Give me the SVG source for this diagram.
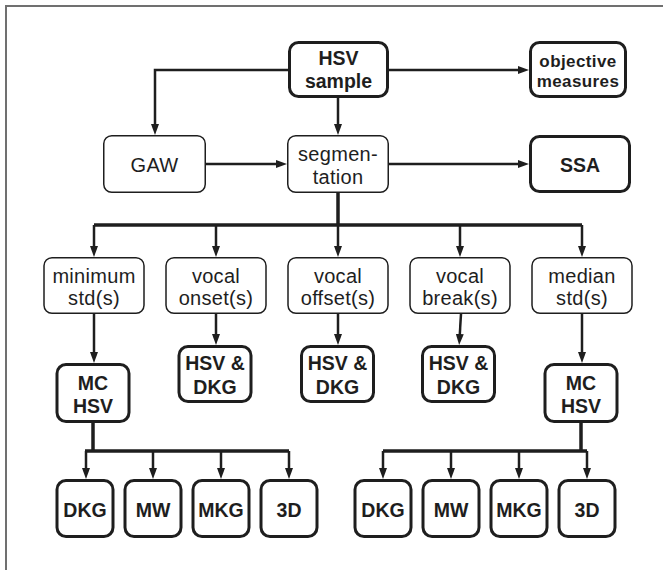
<svg xmlns="http://www.w3.org/2000/svg" width="664" height="570" viewBox="0 0 664 570">
<defs>
<marker id="ah" markerUnits="userSpaceOnUse" markerWidth="12" markerHeight="8" refX="5" refY="4" orient="auto">
<path d="M0,0 L11,4 L0,8 z" fill="#1e1e1e"/>
</marker>
<style>
.thin{fill:#fff;stroke:#1e1e1e;stroke-width:1.5}
.thick{fill:#fff;stroke:#1e1e1e;stroke-width:3}
.r{font-family:"Liberation Sans",Arial,sans-serif;font-size:20px;fill:#1e1e1e;text-anchor:middle;letter-spacing:0.3px}
.b{font-family:"Liberation Sans",Arial,sans-serif;font-size:19.5px;font-weight:bold;fill:#1e1e1e;text-anchor:middle}
.bs{font-family:"Liberation Sans",Arial,sans-serif;font-size:17px;font-weight:bold;fill:#1e1e1e;text-anchor:middle;letter-spacing:0.4px}
.ca{fill:none;stroke:#1e1e1e;stroke-width:2.5;marker-end:url(#ah)}
.bus{fill:none;stroke:#1e1e1e;stroke-width:3.5}
</style>
</defs>
<rect width="664" height="570" fill="#fff"/>
<path d="M6,570 V6 H663" fill="none" stroke="#707070" stroke-width="2"/>

<g id="connectors">
<path class="ca" d="M288,70 H155 V129"/>
<path class="ca" d="M389,70 H523"/>
<path class="ca" d="M338,98 V129"/>
<path class="ca" d="M206,164 H281"/>
<path class="ca" d="M389,164 H523"/>
<path class="bus" d="M338,193 V225"/>
<path class="bus" d="M94,225 H582"/>
<path class="ca" d="M94,225 V251"/>
<path class="ca" d="M216,225 V251"/>
<path class="ca" d="M338,225 V251"/>
<path class="ca" d="M460,225 V251"/>
<path class="ca" d="M582,225 V251"/>
<path class="ca" d="M94,314 V357"/>
<path class="ca" d="M216,314 V339"/>
<path class="ca" d="M338,314 V339"/>
<path class="ca" d="M461,314 L459.5,339"/>
<path class="ca" d="M582,314 V357"/>
<path class="bus" d="M93,423 V451"/>
<path class="bus" d="M85,451 H289"/>
<path class="ca" d="M86,451 V473"/>
<path class="ca" d="M153,451 V473"/>
<path class="ca" d="M221,451 V473"/>
<path class="ca" d="M289,451 V473"/>
<path class="bus" d="M581,423 V451"/>
<path class="bus" d="M383,451 H587"/>
<path class="ca" d="M383,451 V473"/>
<path class="ca" d="M451,451 V473"/>
<path class="ca" d="M519,451 V473"/>
<path class="ca" d="M587,451 V473"/>
</g>

<g id="hsv-sample"><rect class="thick" x="289.5" y="42.5" width="98" height="54" rx="9"/><text class="b" x="338.5" y="65">HSV</text><text class="b" x="338.5" y="88">sample</text></g>
<g id="objective-measures"><rect class="thick" x="530.5" y="42.5" width="95" height="54" rx="9"/><text class="bs" x="578" y="66.5">objective</text><text class="bs" x="578" y="86.5">measures</text></g>
<g id="gaw"><rect class="thin" x="103.75" y="135.75" width="101.5" height="56.5" rx="8"/><text class="r" x="154.5" y="172">GAW</text></g>
<g id="segmentation"><rect class="thin" x="287.75" y="135.75" width="100.5" height="56.5" rx="8"/><text class="r" x="338" y="161">segmen-</text><text class="r" x="338" y="183.5">tation</text></g>
<g id="ssa"><rect class="thick" x="530.5" y="136.5" width="99" height="55" rx="9"/><text class="b" x="580" y="172">SSA</text></g>

<g id="minimum-std"><rect class="thin" x="44" y="257.75" width="100" height="55.5" rx="8"/><text class="r" x="94" y="283">minimum</text><text class="r" x="94" y="304.5">std(s)</text></g>
<g id="vocal-onset"><rect class="thin" x="166" y="257.75" width="100" height="55.5" rx="8"/><text class="r" x="216" y="283">vocal</text><text class="r" x="216" y="304.5">onset(s)</text></g>
<g id="vocal-offset"><rect class="thin" x="288" y="257.75" width="100" height="55.5" rx="8"/><text class="r" x="338" y="283">vocal</text><text class="r" x="338" y="304.5">offset(s)</text></g>
<g id="vocal-break"><rect class="thin" x="410" y="257.75" width="100" height="55.5" rx="8"/><text class="r" x="460" y="283">vocal</text><text class="r" x="460" y="304.5">break(s)</text></g>
<g id="median-std"><rect class="thin" x="532" y="257.75" width="100" height="55.5" rx="8"/><text class="r" x="582" y="283">median</text><text class="r" x="582" y="304.5">std(s)</text></g>

<g id="mc-hsv-left"><rect class="thick" x="57" y="364.5" width="72" height="57" rx="9"/><text class="b" x="93" y="390">MC</text><text class="b" x="93" y="413">HSV</text></g>
<g id="hsv-dkg-onset"><rect class="thick" x="179" y="346.5" width="72" height="55" rx="9"/><text class="b" x="215" y="370">HSV &amp;</text><text class="b" x="215" y="393.5">DKG</text></g>
<g id="hsv-dkg-offset"><rect class="thick" x="301.5" y="346.5" width="72" height="55" rx="9"/><text class="b" x="337.5" y="370">HSV &amp;</text><text class="b" x="337.5" y="393.5">DKG</text></g>
<g id="hsv-dkg-break"><rect class="thick" x="422.5" y="346.5" width="72" height="55" rx="9"/><text class="b" x="458.5" y="370">HSV &amp;</text><text class="b" x="458.5" y="393.5">DKG</text></g>
<g id="mc-hsv-right"><rect class="thick" x="545" y="364.5" width="72" height="57" rx="9"/><text class="b" x="581" y="390">MC</text><text class="b" x="581" y="413">HSV</text></g>

<g id="dkg-left"><rect class="thick" x="57" y="480.5" width="56" height="56" rx="9"/><text class="b" x="85" y="516.5">DKG</text></g>
<g id="mw-left"><rect class="thick" x="125" y="480.5" width="56" height="56" rx="9"/><text class="b" x="153" y="516.5">MW</text></g>
<g id="mkg-left"><rect class="thick" x="193" y="480.5" width="56" height="56" rx="9"/><text class="b" x="221" y="516.5">MKG</text></g>
<g id="3d-left"><rect class="thick" x="261" y="480.5" width="56" height="56" rx="9"/><text class="b" x="289" y="516.5">3D</text></g>
<g id="dkg-right"><rect class="thick" x="355" y="480.5" width="56" height="56" rx="9"/><text class="b" x="383" y="516.5">DKG</text></g>
<g id="mw-right"><rect class="thick" x="423" y="480.5" width="56" height="56" rx="9"/><text class="b" x="451" y="516.5">MW</text></g>
<g id="mkg-right"><rect class="thick" x="491" y="480.5" width="56" height="56" rx="9"/><text class="b" x="519" y="516.5">MKG</text></g>
<g id="3d-right"><rect class="thick" x="559" y="480.5" width="56" height="56" rx="9"/><text class="b" x="587" y="516.5">3D</text></g>
</svg>
